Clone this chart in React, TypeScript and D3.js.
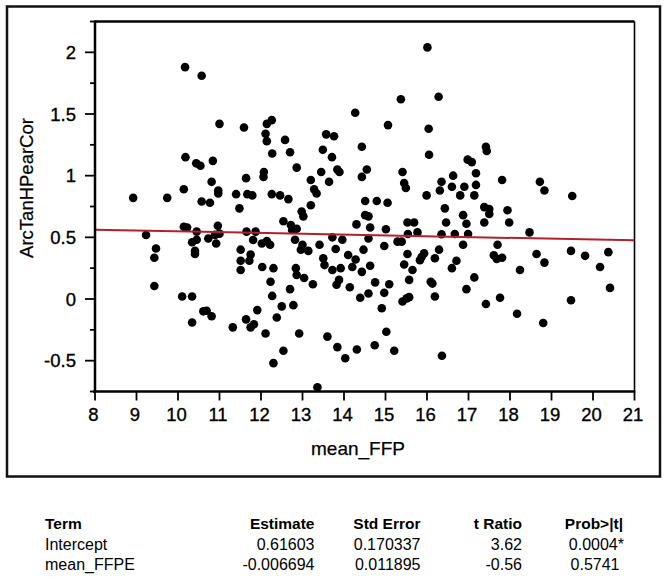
import React from "react";
import * as d3 from "d3";

// ---- data ----
const meanFFP = [
  10.17, 10.57, 11.0, 11.59, 12.14, 12.11, 12.14, 12.27, 10.18, 10.44, 10.54, 10.84, 10.81, 11.64, 12.07, 12.06,
  10.14, 10.97, 10.97, 8.92, 9.74, 11.4, 11.67, 11.79, 10.57, 10.77, 11.48, 10.14, 10.22, 10.96, 10.45, 9.23,
  11.0, 10.89, 11.65, 11.87, 10.45, 10.34, 10.73, 10.92, 11.81, 12.02, 12.14, 12.22, 9.47, 9.43, 10.41, 10.41,
  11.51, 11.75, 11.51, 11.72, 11.51, 12.03, 9.43, 10.1, 10.34, 10.61, 10.69, 10.81, 10.34, 11.91, 11.64, 11.75,
  11.83, 11.32, 12.11, 12.3,
  16.01, 15.37, 16.28, 14.27, 15.06, 16.04, 12.26, 12.58, 13.57, 13.76, 12.7, 13.49, 13.71, 14.43, 16.05, 12.86,
  13.45, 13.84, 13.89, 13.2, 13.64, 13.28, 13.34, 14.43, 14.55, 15.41, 15.45, 15.49, 16.35, 16.31, 12.26, 12.46,
  12.66, 15.99,
  14.51, 14.79, 15.05, 16.43, 13.2, 12.98, 13.02, 12.54, 12.72, 12.86, 12.75, 14.51, 14.59, 14.3, 14.63, 15.01,
  15.53, 15.69, 15.54, 15.77, 16.46, 16.35, 12.82, 13.0, 12.96, 13.14, 13.41, 13.72, 13.96, 13.8, 14.59, 14.47,
  14.97, 15.29, 15.39, 15.53, 15.93, 15.87, 15.83, 16.29, 16.19, 13.5, 13.53, 14.1, 14.28, 14.2, 14.63, 14.43,
  13.72, 13.92, 15.45, 15.65, 12.3, 12.84, 12.86, 13.04, 12.23, 13.25, 13.88, 13.82, 14.14, 14.75, 15.09, 14.97,
  15.57, 16.09, 16.13, 12.7, 12.27, 14.39, 14.59, 15.41, 15.57, 15.51, 16.19, 12.5, 12.78, 12.38, 14.91, 12.92,
  13.6, 13.84, 14.03, 14.31, 14.74, 15.02, 15.21, 12.54, 16.36, 13.36,
  17.42, 17.44, 16.98, 17.08, 16.63, 16.6, 16.9, 16.8, 17.18, 17.18, 17.14, 17.81, 18.72, 18.83, 19.5, 16.87,
  16.95, 17.38, 17.5, 17.5, 17.38, 17.94, 17.98, 16.67, 16.99, 18.47, 16.87, 17.7, 17.61, 17.68, 17.81, 16.71,
  16.6, 18.64, 18.83, 18.24, 19.47, 19.81, 20.37, 20.17, 20.41, 17.14, 16.95, 17.42, 17.76, 18.17, 18.8, 19.47,
];

const arcTanHPearCor = [
  1.88, 1.81, 1.42, 1.39, 1.42, 1.34, 1.28, 1.18, 1.15, 1.1, 1.08, 1.12, 0.95, 0.98, 1.03, 0.99,
  0.89, 0.88, 0.855, 0.82, 0.82, 0.85, 0.85, 0.84, 0.79, 0.78, 0.735, 0.586, 0.58, 0.594, 0.546, 0.519,
  0.53, 0.52, 0.546, 0.546, 0.48, 0.46, 0.49, 0.45, 0.478, 0.45, 0.47, 0.44, 0.41, 0.335, 0.39, 0.365,
  0.4, 0.36, 0.31, 0.31, 0.235, 0.26, 0.105, 0.02, 0.02, -0.1, -0.095, -0.14, -0.19, -0.09, -0.165, -0.23,
  -0.205, -0.23, -0.28, -0.52,
  2.04, 1.62, 1.64, 1.51, 1.41, 1.38, 1.45, 1.29, 1.335, 1.32, 1.19, 1.21, 1.15, 1.235, 1.17, 1.065,
  1.03, 1.05, 1.03, 0.965, 0.95, 0.89, 0.855, 0.99, 1.05, 1.03, 0.94, 0.9, 0.95, 0.88, 0.85, 0.84,
  0.81, 0.84,
  0.795, 0.795, 0.78, 0.735, 0.76, 0.71, 0.67, 0.63, 0.6, 0.57, 0.56, 0.68, 0.67, 0.605, 0.58, 0.565,
  0.62, 0.62, 0.527, 0.54, 0.62, 0.525, 0.48, 0.44, 0.4, 0.39, 0.44, 0.5, 0.48, 0.405, 0.49, 0.4,
  0.43, 0.465, 0.465, 0.365, 0.37, 0.34, 0.315, 0.4, 0.33, 0.33, 0.275, 0.357, 0.32, 0.26, 0.27, 0.22,
  0.235, 0.25, 0.28, 0.235, 0.25, 0.25, 0.195, 0.17, 0.14, 0.12, 0.155, 0.115, 0.095, 0.135, 0.12, 0.05,
  0.155, 0.14, 0.125, 0.08, 0.025, 0.01, 0.045, -0.02, 0.015, 0.005, 0.02, -0.06, -0.05, -0.15, -0.075, -0.28,
  -0.305, -0.39, -0.48, -0.41, -0.375, -0.265, -0.42, -0.42, -0.46, -0.716,
  1.235, 1.2, 1.13, 1.11, 1.0, 0.91, 0.91, 0.84, 1.02, 0.925, 0.84, 0.965, 0.95, 0.88, 0.835, 0.68,
  0.61, 0.745, 0.73, 0.69, 0.62, 0.72, 0.62, 0.527, 0.527, 0.54, 0.44, 0.44, 0.355, 0.325, 0.335, 0.31,
  0.25, 0.365, 0.295, 0.235, 0.39, 0.35, 0.38, 0.26, 0.09, 0.175, 0.08, -0.04, 0.01, -0.12, -0.195, -0.01,
];

const xTickValues = [8, 9, 10, 11, 12, 13, 14, 15, 16, 17, 18, 19, 20, 21];
const yMajorTicks = [-0.5, 0, 0.5, 1, 1.5, 2];
const yMinorTicks = [-0.75, -0.25, 0.25, 0.75, 1.25, 1.75, 2.25];

const xTitle = "mean_FFP";
const yTitle = "ArcTanHPearCor";

const interceptEstimate = 0.61603;
const slopeEstimate = -0.006694;

const tableHeaders = ["Term", "Estimate", "Std Error", "t Ratio", "Prob>|t|"];
const termNames = ["Intercept", "mean_FFPE"];
const estimates = ["0.61603", "-0.006694"];
const stdErrors = ["0.170337", "0.011895"];
const tRatios = ["3.62", "-0.56"];
const probValues = ["0.0004*", "0.5741"];

// ---- layout ----
const W = 667;
const H = 579;
const plotLeft = 95;
const plotRight = 634.5;
const plotTop = 21.5;
const plotBottom = 391.5;
const FONT = "'Liberation Sans', Arial, sans-serif";

export default function App() {
  const x = d3.scaleLinear().domain([8, 21]).range([plotLeft, plotRight]);
  const y = d3.scaleLinear().domain([-0.75, 2.25]).range([plotBottom, plotTop]);

  const fitLine = d3
    .line<number>()
    .x((d) => x(d))
    .y((d) => y(interceptEstimate + slopeEstimate * d));

  const points = meanFFP.map((v, i) => [v, arcTanHPearCor[i]] as [number, number]);

  const tableRows = termNames.map((t, i) => [t, estimates[i], stdErrors[i], tRatios[i], probValues[i]]);
  const colRight = [0, 314.5, 420.5, 522, 619.5];
  const headerRight = [0, 314.5, 420.5, 522, 623];
  const termLeft = 45;
  const headerBase = 529.3;
  const rowBase = [550, 570];

  return (
    <svg
      width={W}
      height={H}
      viewBox={`0 0 ${W} ${H}`}
      style={{ position: "absolute", left: 0, top: 0, background: "#fff" }}
      fontFamily={FONT}
    >
      <rect x={0} y={0} width={W} height={H} fill="#fff" />
      {/* outer frame */}
      <rect x={7} y={6.5} width={653} height={470} fill="none" stroke="#111" strokeWidth={2.5} />

      {/* points */}
      <g fill="#000">
        {points.map((p, i) => (
          <circle key={i} cx={x(p[0])} cy={y(p[1])} r={4.3} />
        ))}
      </g>

      {/* fit line */}
      <path d={fitLine([8, 21]) || ""} fill="none" stroke="#b3202c" strokeWidth={2} />

      {/* plot frame */}
      <line x1={plotLeft} x2={plotRight} y1={plotTop} y2={plotTop} stroke="#000" strokeWidth={2.5} />
      <line x1={plotRight} x2={plotRight} y1={plotTop} y2={plotBottom} stroke="#000" strokeWidth={1.6} />
      <line x1={plotLeft} x2={plotLeft} y1={plotTop - 1} y2={plotBottom + 1} stroke="#000" strokeWidth={2.5} />
      <line x1={plotLeft - 2} x2={plotRight + 0.8} y1={plotBottom} y2={plotBottom} stroke="#000" strokeWidth={2.5} />

      {/* y ticks */}
      <g stroke="#000" strokeWidth={0.35}>
        {yMajorTicks.map((t) => (
          <g key={"ym" + t}>
            <line x1={plotLeft - 10} x2={plotLeft} y1={y(t)} y2={y(t)} stroke="#000" strokeWidth={1.8} />
            <text x={76} y={y(t)} dy="0.36em" textAnchor="end" fontSize={18.5} fill="#000">
              {t}
            </text>
          </g>
        ))}
      </g>
      {yMinorTicks.map((t) => (
        <line key={"yn" + t} x1={plotLeft - 5} x2={plotLeft} y1={y(t)} y2={y(t)} stroke="#000" strokeWidth={1.8} />
      ))}

      {/* x ticks */}
      <g stroke="#000" strokeWidth={0.35}>
        {xTickValues.map((t) => (
          <g key={"x" + t}>
            <line x1={x(t)} x2={x(t)} y1={plotBottom} y2={plotBottom + 9} stroke="#000" strokeWidth={1.8} />
            <text x={x(t) - 1.5} y={420.5} textAnchor="middle" fontSize={18.5} fill="#000">
              {t}
            </text>
          </g>
        ))}
      </g>

      {/* axis titles */}
      <g stroke="#000" strokeWidth={0.25}>
        <text x={358} y={455} textAnchor="middle" fontSize={19} fill="#000">
          {xTitle}
        </text>
        <text transform={`translate(33,188) rotate(-90)`} textAnchor="middle" fontSize={18.5} fill="#000">
          {yTitle}
        </text>
      </g>

      {/* parameter table */}
      {tableHeaders.map((h, i) => (
        <text
          key={"h" + i}
          x={i === 0 ? termLeft : headerRight[i]}
          y={headerBase}
          textAnchor={i === 0 ? "start" : "end"}
          fontSize={15.5}
          fontWeight="bold"
          fill="#000"
        >
          {h}
        </text>
      ))}
      {tableRows.map((row, r) =>
        row.map((cell, c) => (
          <text
            key={"c" + r + "-" + c}
            x={c === 0 ? termLeft : colRight[c] + (cell.endsWith("*") ? 4.5 : 0)}
            y={rowBase[r]}
            textAnchor={c === 0 ? "start" : "end"}
            fontSize={16}
            fill="#000"
          >
            {cell}
          </text>
        ))
      )}
    </svg>
  );
}
